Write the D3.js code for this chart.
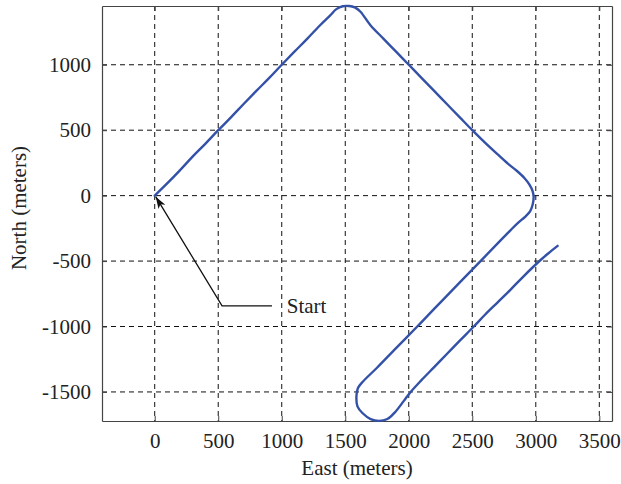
<!DOCTYPE html>
<html>
<head>
<meta charset="utf-8">
<script src="https://cdn.jsdelivr.net/npm/d3@7"></script>
<style>
  html, body { margin: 0; padding: 0; background: #fff; }
  svg { display: block; }
  text { font-family: "Liberation Serif", "Times New Roman", serif; fill: #222; }
</style>
</head>
<body>
<svg id="chart" width="621" height="484"></svg>
<script>
// ---- data ----
const pathEast  = [0, 100, 200, 300, 400, 500, 600, 700, 800, 900, 1000, 1100, 1200, 1300, 1380, 1430, 1480, 1530, 1575, 1620, 1700, 1800, 1900, 2000, 2100, 2200, 2300, 2400, 2500, 2600, 2700, 2780, 2850, 2910, 2950, 2975, 2983, 2975, 2955, 2918, 2860, 2800, 2700, 2565, 2400, 2200, 2067, 1900, 1750, 1640, 1600, 1588, 1596, 1635, 1700, 1766, 1831, 1897, 1960, 2015, 2100, 2200, 2300, 2400, 2512, 2600, 2700, 2800, 2900, 3040, 3100, 3172];
const pathNorth = [0, 95, 195, 300, 398, 500, 598, 700, 800, 898, 1000, 1100, 1198, 1300, 1375, 1425, 1447, 1449, 1438, 1405, 1300, 1200, 1100, 1000, 900, 800, 700, 600, 500, 405, 315, 245, 190, 135, 85, 35, -10, -70, -120, -160, -208, -265, -365, -500, -665, -865, -1000, -1165, -1315, -1420, -1470, -1534, -1610, -1661, -1707, -1721, -1707, -1649, -1570, -1500, -1410, -1310, -1210, -1110, -1000, -910, -815, -720, -620, -490, -440, -384];

const xTicks = [0, 500, 1000, 1500, 2000, 2500, 3000, 3500];
const yTicks = [-1500, -1000, -500, 0, 500, 1000];
const xDomain = [-415, 3600];
const yDomain = [-1722, 1449];

const annotation = { label: "Start", tipE: 0, tipN: 0, kneeE: 530, kneeN: -842, endE: 923, textE: 1055 };

// ---- layout ----
const L = 102, R = 612, T = 6, B = 421;
const FS = 21;
const svg = d3.select("#chart");
const x = d3.scaleLinear().domain(xDomain).range([L, R]);
const y = d3.scaleLinear().domain(yDomain).range([B, T]);
const fmt = d => String(d);

// grid
const grid = svg.append("g");
grid.selectAll("line.vx").data(xTicks).enter().append("line")
  .attr("x1", d => x(d)).attr("x2", d => x(d)).attr("y1", T).attr("y2", B)
  .attr("stroke", "#111").attr("stroke-width", 1).attr("stroke-dasharray", "5,4");
grid.selectAll("line.hy").data(yTicks).enter().append("line")
  .attr("y1", d => y(d)).attr("y2", d => y(d)).attr("x1", L).attr("x2", R)
  .attr("stroke", "#111").attr("stroke-width", 1).attr("stroke-dasharray", "5,4");

// axes (inward ticks, MATLAB style)
const axColor = "#444";
const xAxisB = svg.append("g").attr("transform", `translate(0,${B})`)
  .call(d3.axisBottom(x).tickValues(xTicks).tickSizeInner(-5).tickSizeOuter(0).tickPadding(12).tickFormat(fmt));
const xAxisT = svg.append("g").attr("transform", `translate(0,${T})`)
  .call(d3.axisTop(x).tickValues(xTicks).tickSizeInner(-5).tickSizeOuter(0).tickFormat(""));
const yAxisL = svg.append("g").attr("transform", `translate(${L},0)`)
  .call(d3.axisLeft(y).tickValues(yTicks).tickSizeInner(-5).tickSizeOuter(0).tickPadding(11).tickFormat(fmt));
const yAxisR = svg.append("g").attr("transform", `translate(${R},0)`)
  .call(d3.axisRight(y).tickValues(yTicks).tickSizeInner(-5).tickSizeOuter(0).tickFormat(""));
[xAxisB, xAxisT, yAxisL, yAxisR].forEach(g => {
  g.select(".domain").attr("stroke", axColor).attr("stroke-width", 1.2);
  g.selectAll(".tick line").attr("stroke", axColor);
  g.selectAll(".tick text").attr("font-family", "Liberation Serif, serif").attr("font-size", FS).attr("fill", "#222");
});
xAxisB.selectAll(".tick text").attr("dy", "0.71em");

// path
const pts = pathEast.map((e, i) => [e, pathNorth[i]]);
svg.append("path")
  .datum(pts)
  .attr("fill", "none")
  .attr("stroke", "#3451a8")
  .attr("stroke-width", 2.4)
  .attr("stroke-linejoin", "round")
  .attr("stroke-linecap", "round")
  .attr("d", d3.line().x(d => x(d[0])).y(d => y(d[1])).curve(d3.curveCatmullRom.alpha(0.5)));

// annotation
svg.append("defs").append("marker")
  .attr("id", "arr").attr("viewBox", "0 0 12 8").attr("refX", 12).attr("refY", 4)
  .attr("markerWidth", 12).attr("markerHeight", 8).attr("markerUnits", "userSpaceOnUse")
  .attr("orient", "auto")
  .append("path").attr("d", "M0,0 L12,4 L0,8 L3,4 Z").attr("fill", "#111");
svg.append("polyline")
  .attr("points", [[x(annotation.endE), y(annotation.kneeN)], [x(annotation.kneeE), y(annotation.kneeN)], [x(annotation.tipE) + 1, y(annotation.tipN) + 1]].map(p => p.join(",")).join(" "))
  .attr("fill", "none").attr("stroke", "#111").attr("stroke-width", 1.3)
  .attr("marker-end", "url(#arr)");
svg.append("text")
  .attr("x", x(annotation.textE) - 2).attr("y", y(annotation.kneeN) + 7)
  .attr("font-size", FS).text(annotation.label);

// axis labels
svg.append("text").attr("x", 357).attr("y", 475).attr("text-anchor", "middle")
  .attr("font-size", FS).text("East (meters)");
svg.append("text").attr("transform", `translate(26,208) rotate(-90)`).attr("text-anchor", "middle")
  .attr("font-size", FS).text("North (meters)");
</script>
</body>
</html>
